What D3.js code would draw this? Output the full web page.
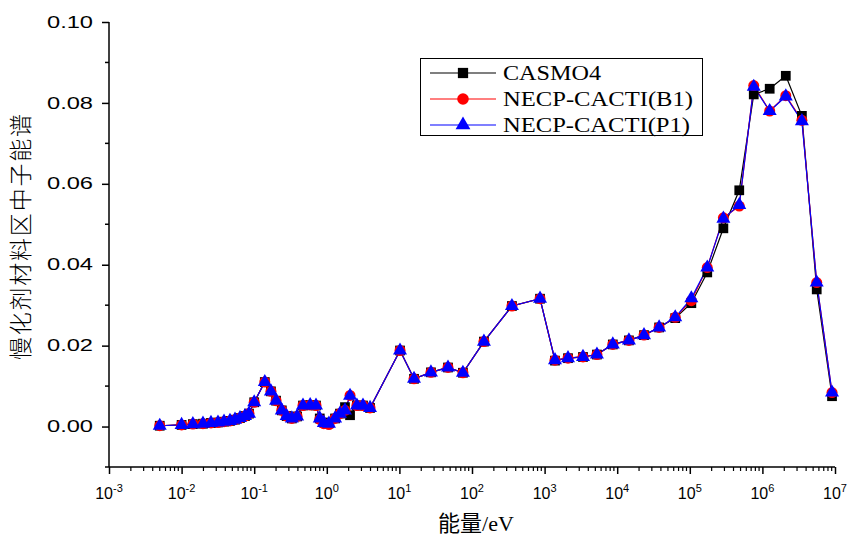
<!DOCTYPE html>
<html><head><meta charset="utf-8">
<script src="https://cdn.jsdelivr.net/npm/d3@7"></script>
<style>body{margin:0;background:#fff}svg{display:block}</style>
</head><body>
<svg id="c" width="849" height="538"></svg>
<script>
const energies = [5.0e-3,1.0e-2,1.43e-2,1.97e-2,2.54e-2,3.17e-2,3.84e-2,4.64e-2,5.44e-2,6.37e-2,7.47e-2,8.48e-2,
 0.1,0.14,0.17,0.2,0.24,0.28,0.33,0.39,0.47,0.59,0.71,0.8,0.91,1.07,1.3,1.52,1.78,2.09,2.6,3.15,3.94,
 10.2,15.9,27.2,46.7,75,146,355,865,1390,2100,3380,5260,8700,1.45e4,2.34e4,3.78e4,6.3e4,1.05e5,1.74e5,2.9e5,4.8e5,7.6e5,1.26e6,2.1e6,3.5e6,5.6e6,9.1e6];
const casmo4 = [0.0002,0.0004,0.0006,0.0007,0.0009,0.0010,0.0012,0.0014,0.0017,0.0021,0.0026,0.0032,
 0.0060,0.0110,0.0087,0.0064,0.0040,0.0026,0.0020,0.0025,0.0052,0.0053,0.0052,0.0020,0.0010,0.0008,0.0020,0.0032,0.0048,0.0028,0.0052,0.0052,0.0046,
 0.0188,0.0118,0.0134,0.0146,0.0133,0.0210,0.0298,0.0316,0.0163,0.0169,0.0172,0.0178,0.0203,0.0213,0.0226,0.0245,0.0268,0.0305,0.0381,0.0490,0.0584,0.0821,0.0835,0.0867,0.0768,0.0339,0.0075];
const b1 = [0.0002,0.0004,0.0006,0.0007,0.0009,0.0010,0.0012,0.0014,0.0017,0.0021,0.0026,0.0032,
 0.0060,0.0110,0.0087,0.0064,0.0040,0.0026,0.0020,0.0025,0.0052,0.0053,0.0052,0.0018,0.0007,0.0005,0.0020,0.0032,0.0040,0.0077,0.0052,0.0052,0.0046,
 0.0188,0.0118,0.0134,0.0146,0.0133,0.0210,0.0298,0.0316,0.0164,0.0169,0.0172,0.0178,0.0203,0.0213,0.0226,0.0245,0.0270,0.0311,0.0393,0.0516,0.0545,0.0843,0.0780,0.0818,0.0757,0.0356,0.0084];
const p1 = [0.0002,0.0004,0.0006,0.0007,0.0009,0.0010,0.0012,0.0014,0.0017,0.0021,0.0026,0.0032,
 0.0060,0.0110,0.0087,0.0064,0.0040,0.0026,0.0020,0.0025,0.0052,0.0053,0.0052,0.0020,0.0009,0.0007,0.0020,0.0032,0.0040,0.0076,0.0052,0.0052,0.0046,
 0.0188,0.0118,0.0134,0.0146,0.0133,0.0210,0.0298,0.0316,0.0164,0.0169,0.0172,0.0178,0.0203,0.0213,0.0226,0.0245,0.0270,0.0317,0.0393,0.0514,0.0548,0.0840,0.0780,0.0816,0.0755,0.0356,0.0084];
const seriesNames = ["CASMO4","NECP-CACTI(B1)","NECP-CACTI(P1)"];
const yTicks = [0.00,0.02,0.04,0.06,0.08,0.10];
const xTickExps = [-3,-2,-1,0,1,2,3,4,5,6,7];

const svg = d3.select("#c");
const L=109, R=835, T=22, B=467;
const x = d3.scaleLog().domain([1e-3,1e7]).range([L,R]);
const y = d3.scaleLinear().domain([-0.01,0.10]).range([B,T]);

// Y axis
const yAxis = d3.axisLeft(y).tickValues(yTicks).tickFormat(d3.format(".2f")).tickSize(7).tickPadding(9);
const gy = svg.append("g").attr("transform",`translate(${L},0)`).call(yAxis);
gy.select(".domain").attr("stroke-width",1.5).attr("d",`M0,${B}V${T}`);
gy.selectAll(".tick line").attr("stroke-width",1.5);
gy.selectAll(".tick text").attr("font-family","Liberation Sans, Arial").attr("font-size",16).attr("fill","#000")
  .attr("textLength",46).attr("lengthAdjust","spacingAndGlyphs");
const yMinor = [0.01,0.03,0.05,0.07,0.09,-0.01];
svg.append("g").selectAll("line").data(yMinor).join("line")
 .attr("x1",L-4).attr("x2",L).attr("y1",d=>y(d)).attr("y2",d=>y(d)).attr("stroke","#000").attr("stroke-width",1.5);

// X axis
const majors = xTickExps.map(e=>Math.pow(10,e));
const minors = [];
for (let e=-3;e<7;e++) for (let k=2;k<=9;k++) minors.push(k*Math.pow(10,e));
const xAxis = d3.axisBottom(x).tickValues(majors).tickFormat("").tickSize(7);
const gx = svg.append("g").attr("transform",`translate(0,${B})`).call(xAxis);
gx.select(".domain").attr("stroke-width",1.5).attr("d",`M${L},0H${R}`);
gx.selectAll(".tick line").attr("stroke-width",1.5);
svg.append("g").selectAll("line").data(minors).join("line")
 .attr("x1",d=>x(d)).attr("x2",d=>x(d)).attr("y1",B).attr("y2",B+4).attr("stroke","#000").attr("stroke-width",1.2);
const xl = svg.append("g").selectAll("text").data(xTickExps).join("text")
 .attr("x",d=>x(Math.pow(10,d))).attr("y",499).attr("text-anchor","middle")
 .attr("font-family","Liberation Sans, Arial").attr("font-size",16).attr("fill","#000");
xl.append("tspan").text("10");
xl.append("tspan").attr("dy",-7).attr("font-size",11).text(d=>String(d));

// Titles
svg.append("text").attr("x",476).attr("y",531).attr("text-anchor","middle")
 .attr("font-family","Liberation Serif, Noto Sans CJK SC").attr("font-size",22).text("能量/eV");
svg.append("text").attr("transform","translate(29,237) rotate(-90)").attr("text-anchor","middle")
 .attr("font-family","Noto Sans CJK SC").attr("font-weight",300).attr("font-size",23)
 .attr("textLength",246).attr("lengthAdjust","spacing").text("慢化剂材料区中子能谱");

// Series
const colors = ["#000","#ff0000","#0000ff"];
const data = [casmo4,b1,p1];
const line = d3.line().x(d=>x(d[0])).y(d=>y(d[1]));
const symbols = [d3.symbolSquare,d3.symbolCircle,d3.symbolTriangle];
const symSizes = [95,95,85];
data.forEach((vals,i)=>{
  const pts = energies.map((e,j)=>[e,vals[j]]);
  svg.append("path").datum(pts).attr("d",line).attr("fill","none").attr("stroke",colors[i]).attr("stroke-width",1.2);
});
data.forEach((vals,i)=>{
  const pts = energies.map((e,j)=>[e,vals[j]]);
  svg.append("g").selectAll("path").data(pts).join("path")
   .attr("transform",d=>`translate(${x(d[0])},${y(d[1])})`)
   .attr("d",d3.symbol().type(symbols[i]).size(symSizes[i])).attr("fill",colors[i]);
});

// Legend
const lg = svg.append("g");
const legW = [98,190,187];
lg.append("rect").attr("x",420.5).attr("y",58.5).attr("width",282).attr("height",77).attr("fill","#fff").attr("stroke","#000").attr("stroke-width",1);
seriesNames.forEach((n,i)=>{
  const yy = 73 + i*26;
  lg.append("line").attr("x1",430).attr("x2",496).attr("y1",yy).attr("y2",yy).attr("stroke",colors[i]).attr("stroke-width",1.2);
  lg.append("path").attr("transform",`translate(463,${yy})`).attr("d",d3.symbol().type(symbols[i]).size(symSizes[i]+10)).attr("fill",colors[i]);
  lg.append("text").attr("x",503).attr("y",yy+7).attr("font-family","Liberation Serif, Times New Roman").attr("font-size",21).attr("fill","#000")
   .attr("textLength",legW[i]).attr("lengthAdjust","spacingAndGlyphs").text(n);
});
</script>
</body></html>
